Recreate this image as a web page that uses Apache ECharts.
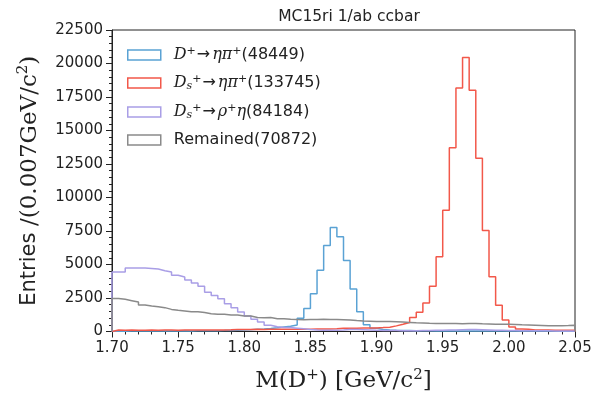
<!DOCTYPE html>
<html>
<head>
<meta charset="utf-8">
<script src="https://cdn.jsdelivr.net/npm/echarts@6/dist/echarts.min.js"></script>
<style>
html, body { margin: 0; padding: 0; background: #fff; }
#main { width: 597px; height: 398px; }
</style>
</head>
<body>
<div id="main"></div>
<script>
// histogram binning: 1.70 -> 2.05, 70 bins
var binLow = 1.70;
var binWidth = 0.005;

var seriesNames = ['dplus_etapi', 'ds_etapi', 'ds_rhoeta', 'remained'];
var seriesColors = ['#5aa2d4', '#f2584a', '#a99ee6', '#8a8a8a'];

var dplusEtaPi = [
    30, 25, 30, 35, 30, 40, 35, 40, 45, 40,
    50, 45, 55, 50, 60, 65, 70, 80, 90, 110,
    130, 160, 190, 230, 280, 340, 400, 480, 985, 1725,
    2810, 4565, 6415, 7770, 7080, 5305, 3180, 1480, 495, 245,
    150, 110, 90, 80, 70, 60, 55, 50, 45, 45,
    40, 40, 40, 45, 40, 40, 35, 40, 35, 35,
    35, 30, 30, 35, 30, 30, 30, 25, 25, 25
];
var dsEtaPi = [
    110, 100, 105, 95, 100, 110, 100, 105, 110, 100,
    105, 110, 115, 110, 120, 115, 120, 125, 150, 150,
    155, 160, 155, 160, 165, 170, 165, 170, 175, 170,
    180, 185, 190, 200, 245, 240, 250, 255, 260, 270,
    290, 320, 420, 540, 670, 1040, 1430, 2130, 3370, 5580,
    9050, 13710, 18180, 20450, 18000, 12930, 7530, 4090, 1950, 865,
    330, 180, 170, 120, 110, 105, 100, 100, 95, 95
];
var dsRhoEta = [
    4440, 4440, 4736, 4740, 4736, 4700, 4660, 4540, 4440, 4195,
    4070, 3850, 3626, 3380, 2935, 2690, 2440, 2070, 1776, 1455,
    1160, 910, 715, 470, 350, 300, 300, 250, 200, 150,
    120, 100, 90, 100, 120, 150, 150, 130, 110, 90,
    80, 70, 70, 60, 60, 60, 70, 80, 90, 100,
    110, 120, 130, 140, 140, 130, 120, 100, 90, 80,
    70, 60, 60, 50, 50, 50, 40, 40, 40, 40
];
var remained = [
    2460, 2400, 2300, 2200, 1980, 1900, 1850, 1780, 1650, 1580,
    1530, 1480, 1480, 1410, 1330, 1290, 1280, 1240, 1230, 1160,
    1150, 1040, 1030, 1040, 960, 950, 910, 900, 880, 890,
    900, 910, 900, 890, 880, 860, 820, 790, 770, 750,
    740, 740, 720, 700, 680, 650, 630, 610, 600, 600,
    590, 600, 580, 590, 600, 570, 560, 550, 540, 540,
    520, 500, 490, 470, 450, 430, 420, 430, 440, 470
];

var legendLabels = {
    dplus_etapi: '{m|D}{sp|+}{ar|→}{m|ηπ}{sp|+}{t|(48449)}',
    ds_etapi: '{m|D}{sb|s}{sp|+}{ar|→}{m|ηπ}{sp|+}{t|(133745)}',
    ds_rhoeta: '{m|D}{sb|s}{sp|+}{ar|→}{m|ρ}{sp|+}{m|η}{t|(84184)}',
    remained: '{t|Remained(70872)}'
};

// turn bin contents into step points (edges), closed down to zero at both ends
function steps(vals) {
    var pts = [[binLow, 0]];
    for (var i = 0; i < vals.length; i++) {
        pts.push([+(binLow + i * binWidth).toFixed(4), vals[i]]);
    }
    var hi = +(binLow + vals.length * binWidth).toFixed(4);
    pts.push([hi, vals[vals.length - 1]]);
    pts.push([hi, 0]);
    return pts;
}

var allValues = [dplusEtaPi, dsEtaPi, dsRhoEta, remained];

var myChart = echarts.init(document.getElementById('main'));

var series = [];
// empty bar series first, only so the legend gets plain outlined boxes
for (var k = 0; k < seriesNames.length; k++) {
    series.push({
        type: 'bar',
        name: seriesNames[k],
        data: [],
        itemStyle: { color: 'rgba(0,0,0,0)', borderColor: seriesColors[k], borderWidth: 1.5 }
    });
}
for (var s = 0; s < allValues.length; s++) {
    series.push({
        type: 'line',
        name: seriesNames[s],
        step: 'end',
        symbol: 'none',
        data: steps(allValues[s]),
        lineStyle: { color: seriesColors[s], width: 1.5 },
        itemStyle: { color: seriesColors[s] },
        animation: false
    });
}

var serif = 'DejaVu Serif';
var sans = 'DejaVu Sans';

myChart.setOption({
    animation: false,
    title: {
        text: 'MC15ri 1/ab ccbar',
        left: 344,
        top: 4,
        textAlign: 'center',
        textStyle: { fontFamily: sans, fontSize: 15.5, fontWeight: 'normal', color: '#222' }
    },
    grid: {
        left: 112,
        right: 22,
        top: 30,
        bottom: 64,
        show: true,
        borderColor: '#222',
        borderWidth: 1
    },
    legend: {
        orient: 'vertical',
        left: 127,
        top: 46,
        padding: 0,
        icon: 'rect',
        itemWidth: 33,
        itemHeight: 10,
        itemGap: 11,
        data: seriesNames.map(function (n, i) {
            return {
                name: n,
                icon: 'rect',
                itemStyle: { color: 'rgba(0,0,0,0)', borderColor: seriesColors[i], borderWidth: 1.5 }
            };
        }),
        formatter: function (name) { return legendLabels[name]; },
        textStyle: {
            color: '#222',
            padding: [0, 0, 0, 8],
            rich: {
                m: { fontFamily: serif, fontStyle: 'italic', fontSize: 16, lineHeight: 18 },
                sp: { fontFamily: sans, fontSize: 11, verticalAlign: 'top', lineHeight: 18 },
                sb: { fontFamily: serif, fontStyle: 'italic', fontSize: 11, verticalAlign: 'bottom', lineHeight: 18 },
                ar: { fontFamily: sans, fontSize: 16, lineHeight: 18, padding: [0, 2, 0, 1] },
                t: { fontFamily: sans, fontSize: 16, lineHeight: 18 }
            }
        }
    },
    xAxis: {
        type: 'value',
        min: 1.70,
        max: 2.05,
        interval: 0.05,
        name: '{a|M(D}{s|+}{a|) [GeV/c}{s|2}{a|]}',
        nameLocation: 'middle',
        nameGap: 36,
        nameTextStyle: {
            color: '#222',
            rich: {
                a: { fontFamily: serif, fontSize: 23, lineHeight: 28 },
                s: { fontFamily: serif, fontSize: 15, verticalAlign: 'top', lineHeight: 28 }
            }
        },
        axisLine: { lineStyle: { color: '#222', width: 1 } },
        axisTick: { show: true, length: 6, lineStyle: { color: '#222' } },
        minorTick: { show: true, splitNumber: 5, length: 3, lineStyle: { color: '#222' } },
        splitLine: { show: false },
        axisLabel: {
            fontFamily: sans, fontSize: 15, color: '#222', margin: 9,
            formatter: function (v) { return v.toFixed(2); }
        }
    },
    yAxis: {
        type: 'value',
        min: 0,
        max: 22500,
        interval: 2500,
        name: '{a|Entries }{b|/(0.007GeV/c}{s|2}{b|)}',
        nameLocation: 'middle',
        nameGap: 68,
        nameTextStyle: {
            color: '#222',
            rich: {
                a: { fontFamily: sans, fontSize: 21, lineHeight: 28 },
                b: { fontFamily: serif, fontSize: 23, lineHeight: 28 },
                s: { fontFamily: serif, fontSize: 15, verticalAlign: 'top', lineHeight: 28 }
            }
        },
        axisLine: { show: true, lineStyle: { color: '#222', width: 1 } },
        axisTick: { show: true, length: 6, lineStyle: { color: '#222' } },
        minorTick: { show: true, splitNumber: 5, length: 3, lineStyle: { color: '#222' } },
        splitLine: { show: false },
        axisLabel: {
            fontFamily: sans, fontSize: 15, color: '#222', margin: 9,
            formatter: function (v) { return String(v); }
        }
    },
    series: series
});
</script>
</body>
</html>
